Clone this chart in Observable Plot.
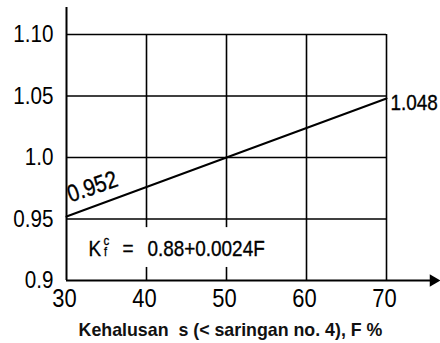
<!DOCTYPE html>
<html>
<head>
<meta charset="utf-8">
<script src="https://cdn.jsdelivr.net/npm/d3@7"></script>
<script src="https://cdn.jsdelivr.net/npm/@observablehq/plot@0.6"></script>
<style>
  html, body { margin: 0; padding: 0; background: #fff; }
</style>
</head>
<body>
<div id="chart"></div>
<script>
// Fines content F (%) and the correction factor Kc_f = 0.88 + 0.0024F
const fines = [30, 70];
const factor = [0.952, 1.048];
const endLabels = ["0.952", "1.048"];

const xTicks = [30, 40, 50, 60, 70];
const xTickLabels = ["30", "40", "50", "60", "70"];
const yTicks = [0.9, 0.95, 1.0, 1.05, 1.10];
const yTickLabels = ["0.9", "0.95", "1.0", "1.05", "1.10"];

const hGrid = [0.95, 1.0, 1.05, 1.10];
const vGridFull = [60, 70];
const vGridBroken = [40, 50];

const xTitle = "Kehalusan \u00a0s (< saringan no. 4), F %";
const formula = "0.88+0.0024F";

const sans = "'Liberation Sans', Arial, Helvetica, sans-serif";

const line = fines.map((F, i) => ({F, K: factor[i], label: endLabels[i]}));
const yLabel = new Map(yTicks.map((v, i) => [v, yTickLabels[i]]));
const xLabel = new Map(xTicks.map((v, i) => [v, xTickLabels[i]]));

const [xMin, xMax] = d3.extent(xTicks);
const [yMin, yMax] = d3.extent(yTicks);
// gap in the 40 and 50 verticals, left open for the equation
const gapTop = 0.943, gapBottom = 0.9106;
// axis extents beyond the plotted range
const yAxisTop = 1.122, xAxisEnd = 75.5, arrowAt = 75.85;
// anchor of the equation text
const eqF = 32.75, eqK = 0.920;

// condensed, slightly heavy lettering for the numbers
const narrowText = {fontFamily: sans, className: "narrow", stroke: "#000", strokeWidth: 0.35, fill: "#000"};
const eq = {...narrowText, x: () => eqF, y: () => eqK, textAnchor: "start", lineAnchor: "bottom"};

const chart = Plot.plot({
  width: 440,
  height: 343,
  marginLeft: 66,
  marginRight: 54,
  marginTop: 34,
  marginBottom: 63,
  x: {domain: [xMin, xMax]},
  y: {domain: [yMin, yMax]},
  style: {background: "#fff", color: "#000", fontFamily: sans, overflow: "visible"},
  marks: [
    // grid
    Plot.ruleY(hGrid, {x1: xMin, x2: xMax, stroke: "#000", strokeWidth: 1.6}),
    Plot.ruleX(vGridFull, {y1: yMin, y2: yMax, stroke: "#000", strokeWidth: 1.6}),
    Plot.ruleX(vGridBroken, {y1: gapTop, y2: yMax, stroke: "#000", strokeWidth: 1.6}),
    Plot.ruleX(vGridBroken, {y1: yMin, y2: gapBottom, stroke: "#000", strokeWidth: 1.6}),
    // axes
    Plot.ruleX([xMin], {y1: yMin, y2: yAxisTop, stroke: "#000", strokeWidth: 2, clip: false}),
    Plot.ruleY([yMin], {x1: xMin, x2: xAxisEnd, stroke: "#000", strokeWidth: 2, clip: false}),
    Plot.dot([{F: arrowAt, K: yMin}], {x: "F", y: "K", symbol: "triangle", rotate: 90, r: 4.6, fill: "#000", stroke: "none", clip: false}),
    Plot.axisX(xTicks, {...narrowText, label: null, tickSize: 0, tickPadding: 8, dx: -2, fontSize: 25.5, tickFormat: d => xLabel.get(d)}),
    Plot.axisY(yTicks, {...narrowText, label: null, tickSize: 0, tickPadding: 13, fontSize: 24, tickFormat: d => yLabel.get(d)}),
    Plot.text([xTitle], {frameAnchor: "bottom", dx: 4, dy: 55, lineAnchor: "bottom", fontSize: 17.8, fontWeight: "bold", fontFamily: sans, fill: "#111"}),
    // factor line
    Plot.line(line, {x: "F", y: "K", stroke: "#000", strokeWidth: 2}),
    Plot.text(line.slice(0, 1), {...narrowText, x: "F", y: "K", text: "label", textAnchor: "start", lineAnchor: "bottom", rotate: -19, dx: 4, dy: -14, fontSize: 24}),
    Plot.text(line.slice(1), {...narrowText, x: "F", y: "K", text: "label", textAnchor: "start", lineAnchor: "middle", dx: 4, dy: 4, fontSize: 22}),
    // equation Kc_f = 0.88 + 0.0024F
    Plot.text(["K"], {...eq, fontSize: 22}),
    Plot.text(["c"], {...eq, dx: 15, dy: -10.5, fontSize: 13.5}),
    Plot.text(["f"], {...eq, dx: 15.5, dy: 0, fontSize: 12.5}),
    Plot.text(["="], {...eq, dx: 34, fontSize: 22}),
    Plot.text([formula], {...eq, dx: 59, fontSize: 22})
  ]
});

// condensed lettering: squeeze each label horizontally about its own anchor
chart.querySelectorAll("g.narrow text").forEach(t => {
  const tr = t.getAttribute("transform") || "";
  const x = +(t.getAttribute("x") || 0);
  t.removeAttribute("x");
  t.setAttribute("transform", `${tr} translate(${x},0) scale(0.86,1)`);
});

document.getElementById("chart").append(chart);
</script>
</body>
</html>
